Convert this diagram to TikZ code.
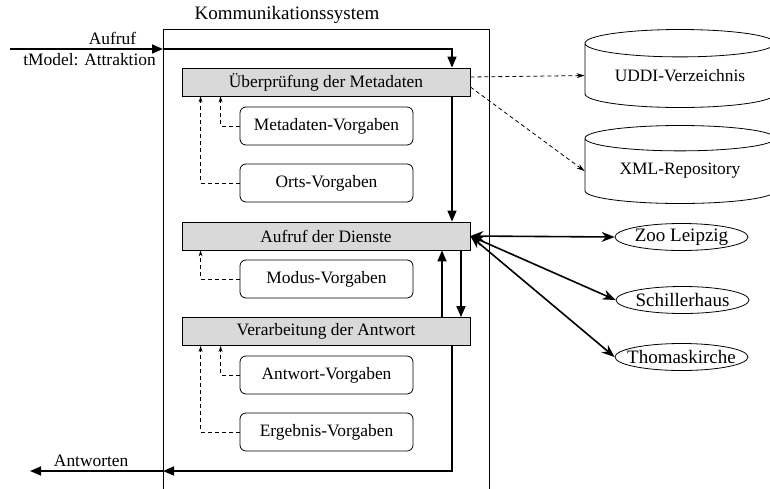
\documentclass[tikz,border=0pt]{standalone}
\usepackage{fontspec}
\setmainfont{Liberation Serif}
\usetikzlibrary{arrows.meta,shapes.geometric}

\begin{document}
\begin{tikzpicture}[x=1pt,y=-1pt,
	font=\fontsize{17.4}{20}\selectfont,
	stufe/.style={draw, line width=0.8pt, fill=gray!30, minimum width=288pt, minimum height=28pt, inner sep=0pt},
	vorgabe/.style={draw, line width=0.8pt, rounded corners=6pt, minimum width=173pt, minimum height=38pt, inner sep=0pt},
	dienst/.style={draw, ellipse, line width=0.8pt, minimum width=133pt, minimum height=27pt, inner xsep=-12pt, inner ysep=-2pt, font=\fontsize{19}{22}\selectfont},
	speicher/.style={draw, cylinder, shape border rotate=90, aspect=0.21, line width=0.8pt, minimum width=190pt, minimum height=78pt, inner sep=0pt, anchor=shape center},
	fluss/.style={line width=1.6pt, -{Triangle[length=11pt,width=9pt]}},
	ruf/.style={line width=1.6pt, {Stealth[length=13pt,width=10pt]}-{Stealth[length=13pt,width=10pt]}},
	regel/.style={line width=0.8pt, dash pattern=on 4pt off 3pt, -{Stealth[open,length=6pt,width=4pt]}},
	nutzt/.style={line width=0.8pt, dash pattern=on 4pt off 3pt, -{Stealth[length=8pt,width=5pt]}}]
	\useasboundingbox (0,0) rectangle (770,488);

	% Kommunikationssystem
	\node (system) [draw, line width=0.8pt, minimum width=326pt, minimum height=470pt, inner sep=0pt, anchor=north west] at (163,29) {};
	\node (titel) [font=\fontsize{19}{22}\selectfont] at (287,15) {Kommunikationssystem};

	% Stufen
	\node (pruef) [stufe] at (326,82) {Überprüfung der Metadaten};
	\node (dienste) [stufe] at (326,236) {Aufruf der Dienste};
	\node (verarb) [stufe] at (326,331.5) {Verarbeitung der Antwort};

	% Vorgaben
	\node (metaV) [vorgabe] at (326.5,126) {Metadaten-Vorgaben};
	\node (ortsV) [vorgabe] at (326.5,183) {Orts-Vorgaben};
	\node (modusV) [vorgabe] at (326.5,279) {Modus-Vorgaben};
	\node (antwortV) [vorgabe] at (326.5,375) {Antwort-Vorgaben};
	\node (ergebnisV) [vorgabe] at (326.5,432) {Ergebnis-Vorgaben};

	% Speicher und Dienste
	\node (uddi) [speicher] at (680,68.5) {UDDI-Verzeichnis};
	\node (xml) [speicher] at (680,164.5) {XML-Repository};
	\node (zoo) [dienst] at (681.5,237) {Zoo Leipzig};
	\node (schiller) [dienst] at (682.5,300) {Schillerhaus};
	\node (thomas) [dienst] at (681.5,357) {Thomaskirche};

	% Ein- und Ausgang
	\coordinate (ein) at (10,49);
	\coordinate (eintritt) at (163,49);
	\coordinate (eineck) at (452,49);
	\coordinate (auseck) at (452,471);
	\coordinate (austritt) at (163,471);
	\coordinate (aus) at (30,471);

	\draw[fluss] (ein) -- (eintritt) node [pos=0.67, above] {Aufruf} node [pos=0.52, below] {tModel: Attraktion};
	\draw[fluss] (eintritt) -- (eineck) -- (pruef.north -| eineck);
	\draw[fluss] (pruef.south -| eineck) -- (dienste.north -| eineck);
	\draw[fluss] ([xshift=-10pt]verarb.north -| eineck) -- ([xshift=-10pt]dienste.south -| eineck);
	\draw[fluss] ([xshift=9pt]dienste.south -| eineck) -- ([xshift=9pt]verarb.north -| eineck);
	\draw[fluss] (verarb.south -| auseck) -- (auseck) -- (austritt);
	\draw[fluss] (austritt) -- (aus) node [pos=0.54, above] {Antworten};

	% Vorgaben
	\draw[regel] (metaV.west) -| ([xshift=39pt]pruef.south west);
	\draw[regel] (ortsV.west) -| ([xshift=19pt]pruef.south west);
	\draw[regel] (modusV.west) -| ([xshift=19pt]dienste.south west);
	\draw[regel] (antwortV.west) -| ([xshift=39pt]verarb.south west);
	\draw[regel] (ergebnisV.west) -| ([xshift=19pt]verarb.south west);

	% Metadaten
	\draw[nutzt] ([yshift=5pt]pruef.east) -- (uddi.west);
	\draw[nutzt] ([yshift=-5pt]pruef.east) -- (xml.west);

	% Dienstaufrufe
	\draw[ruf] (dienste.east) -- (zoo.west);
	\draw[ruf] (dienste.east) -- (schiller.west);
	\draw[ruf] (dienste.east) -- (thomas.west);
\end{tikzpicture}
\end{document}
